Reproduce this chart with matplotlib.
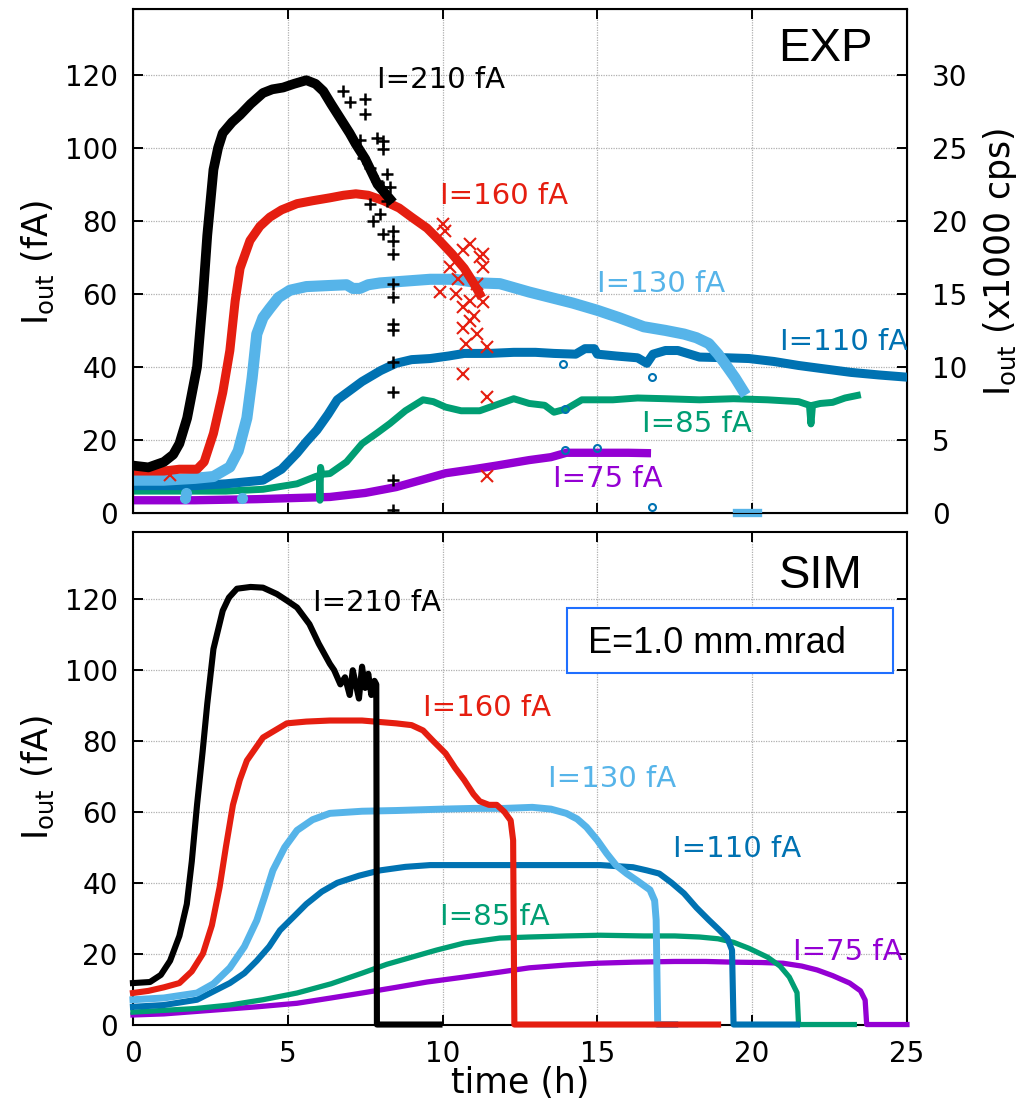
import numpy as np
import matplotlib
matplotlib.use("Agg")
import matplotlib.pyplot as plt
from matplotlib.patches import Rectangle

plt.rcParams['font.family'] = ['DejaVu Sans']
plt.rcParams['mathtext.fontset'] = 'dejavusans'
plt.rcParams['mathtext.default'] = 'regular'

# colours (gnuplot default palette)
c_210 = '#000000'
c_160 = '#e51e10'
c_130 = '#56b4e9'
c_110 = '#0072b2'
c_85 = '#009e73'
c_75 = '#9400d3'

labels = ['I=210 fA', 'I=160 fA', 'I=130 fA', 'I=110 fA', 'I=85 fA', 'I=75 fA']

# ---------------- EXP data (time in h, current in fA) ----------------
exp210_t = [0.0, 0.5, 1.0, 1.3, 1.5, 1.75, 2.07, 2.25, 2.4, 2.6, 2.75, 2.9, 3.2, 3.46, 3.8, 4.2, 4.5,
            4.85, 5.2, 5.6, 5.9, 6.15, 6.4, 6.7, 7.0, 7.2, 7.5, 7.9, 8.1, 8.3]
exp210_v = [13, 12.5, 14, 16, 19, 26, 40, 58, 76, 94, 100, 104, 107, 109, 112, 115, 116,
            116.5, 117.5, 118.5, 117.5, 115.5, 112, 108, 104, 101, 97, 90, 88, 86]
# scattered points of the 210 fA run
exp210_sc_t = [6.79, 7.0, 7.49, 7.49, 7.87, 8.09, 8.09, 8.19, 8.3, 7.76, 8.09, 8.41, 8.41, 8.41, 8.41,
               8.41, 8.41, 8.41, 8.41, 8.41, 7.32, 7.43, 7.65, 7.87, 8.09, 7.65, 7.98, 8.19, 8.41, 8.41]
exp210_sc_v = [115.6, 112.4, 113.3, 109.2, 102.8, 101.9, 99.6, 92.8, 89.2, 80, 76.5, 77.3, 74.5, 70.9, 59.1,
               51.8, 41.3, 33.1, 9.0, 0.8, 102, 97.3, 94.6, 91, 89.2, 84.7, 81.9, 85.5, 62.8, 50]

exp160_t = [0.0, 1.0, 1.5, 2.07, 2.3, 2.6, 2.9, 3.13, 3.3, 3.46, 3.78, 4.1, 4.42, 4.8, 5.3, 5.8, 6.36,
            6.8, 7.2, 7.6, 8.1, 8.6, 9.0, 9.5, 9.9, 10.3, 10.7, 11.0, 11.2]
exp160_v = [11.5, 11.5, 12, 12, 14, 21.8, 33, 44.5, 58, 67, 74.6, 78.5, 81, 83, 84.7, 85.5, 86.3,
            87, 87.4, 87, 85.5, 83.5, 81, 78, 74.6, 71, 67, 63, 60]
exp160_sc_t = [10.02, 10.09, 10.67, 10.89, 11.2, 11.31, 11.1, 10.24, 10.45, 10.67, 10.89, 10.67, 11.1,
               10.77, 11.42, 10.67, 11.42, 11.42, 9.92, 11.31, 11.31, 1.2, 10.5, 10.9, 11.0]
exp160_sc_v = [79.2, 77.3, 71.9, 73.7, 70, 67.3, 62.8, 67.3, 60, 56.4, 52.7, 50.6, 49.1,
               46.4, 45.4, 38.1, 31.7, 10.1, 60.5, 57.8, 70.9, 10.4, 64, 58, 54]

exp130_t = [0.0, 1.0, 2.0, 2.6, 3.13, 3.4, 3.68, 3.85, 4.0, 4.2, 4.42, 4.7, 5.07, 5.6, 6.36, 6.9, 7.1,
            7.33, 7.6, 7.98, 8.8, 9.6, 10.4, 11.2, 11.85, 12.8, 13.5, 14.2, 15.0, 15.7, 16.5, 17.2,
            17.8, 18.2, 18.6, 18.9, 19.2, 19.45, 19.7]
exp130_v = [9, 9, 9.5, 10, 12.6, 17, 26, 37, 49, 53.5, 56, 59, 61, 62, 62.3, 62.5, 61.5,
            61.5, 62.5, 63, 63.5, 64, 64, 63, 62.8, 60.5, 59, 57.5, 55.5, 53.5, 51, 50,
            49, 48, 46.4, 43.5, 40, 37, 33.6]
exp130_zero_t = [19.5, 20.2]
exp130_zero_v = [0, 0]
exp130_sc_t = [1.68, 1.72, 3.51]
exp130_sc_v = [4.0, 5.4, 4.0]

exp110_t = [0.0, 1.0, 2.0, 3.0, 4.2, 4.8, 5.3, 5.6, 5.94, 6.3, 6.6, 7.0, 7.4, 8.0, 8.5, 9.0, 9.6,
            10.2, 10.7, 11.5, 12.3, 13.0, 13.6, 14.3, 14.6, 14.9, 15.0, 15.6, 16.3, 16.6, 16.8,
            17.2, 17.6, 18.3, 19.2, 19.9, 20.7, 21.5, 22.3, 23.2, 24.1, 25.0]
exp110_v = [7.5, 7.5, 7.5, 8, 9, 12, 16.4, 19.5, 22.7, 27, 31, 33.5, 36, 39, 41, 42, 42.3,
            43, 43.7, 43.7, 44, 44, 43.7, 43.5, 45, 45, 43.5, 43, 42.5, 41, 43.5,
            44.5, 44.5, 42.7, 42.5, 42.3, 41.5, 40.4, 39.5, 38.5, 37.8, 37.2]
exp110_sc_t = [13.9, 16.75, 16.75, 13.95, 13.95, 14.98]
exp110_sc_v = [40.9, 37.2, 1.7, 28.6, 17.2, 17.7]

exp85_t = [0.0, 1.0, 2.0, 3.0, 4.2, 5.3, 5.9, 6.02, 6.04, 6.06, 6.1, 6.36, 6.9, 7.4, 7.9, 8.3, 8.8,
           9.37, 9.7, 10.1, 10.6, 11.2, 11.7, 12.3, 12.8, 13.3, 13.6, 14.0, 14.5, 15.5, 16.3, 17.2,
           18.3, 19.4, 20.5, 21.5, 21.85, 21.9, 21.95, 22.2, 22.6, 23.0, 23.4]
exp85_v = [6, 6, 6, 6, 6.5, 8, 10, 10.3, 3.5, 12.5, 10.6, 10.8, 14, 19, 22, 24.5, 28,
           31, 30.5, 29, 28, 28, 29.5, 31.3, 30, 29.5, 27.6, 28.5, 31, 31, 31.5, 31.3,
           31, 31.3, 31, 30.5, 29.5, 24.4, 29.5, 30, 30.3, 31.5, 32.2]

exp75_t = [0.0, 2.0, 4.0, 6.36, 7.5, 8.5, 9.3, 10.1, 11.0, 11.75, 12.8, 13.5, 14.0, 15.0, 16.0, 16.6]
exp75_v = [3.5, 3.5, 3.8, 4.4, 5.5, 7.1, 9, 10.9, 12, 13, 14.5, 15.3, 16.5, 16.5, 16.5, 16.4]

# ---------------- SIM data ----------------
sim210_t = [0.0, 0.55, 0.9, 1.2, 1.5, 1.74, 1.9, 2.07, 2.25, 2.4, 2.6, 2.9, 3.1, 3.36, 3.8, 4.2, 4.65,
            5.0, 5.3, 5.7, 6.0, 6.36, 6.5, 6.7, 6.85, 7.0, 7.1, 7.2, 7.3, 7.4, 7.5, 7.6, 7.7, 7.8,
            7.86, 7.88, 8.5, 9.9]
sim210_v = [11.7, 12, 14, 18, 25, 34, 46, 62, 77, 90.5, 106, 116.8, 120.5, 123, 123.5, 123.3, 121.5,
            119.5, 117.7, 113, 107.5, 101.8, 100, 96, 98, 93, 100, 96, 92, 101, 95, 99, 93, 97,
            96, 0, 0, 0]

sim160_t = [0.0, 0.5, 1.0, 1.5, 1.9, 2.26, 2.55, 2.8, 3.0, 3.23, 3.45, 3.68, 4.2, 4.97, 5.6, 6.36,
            7.4, 8.5, 9.0, 9.37, 9.7, 10.1, 10.4, 10.7, 11.0, 11.2, 11.5, 11.75, 12.0, 12.2, 12.28,
            12.32, 18.9]
sim160_v = [8.9, 9.5, 10.5, 11.7, 15, 20, 28, 38.8, 50, 62, 69, 74.5, 81, 85, 85.5, 85.8,
            85.8, 85, 84.5, 83, 80, 76.5, 72.5, 69, 65, 63, 62, 62, 60, 57.6, 52,
            0, 0]

sim130_t = [0.0, 1.0, 2.07, 2.6, 3.13, 3.6, 4.0, 4.25, 4.52, 4.9, 5.3, 5.8, 6.36, 7.4, 8.5, 10.0,
            11.0, 12.0, 12.9, 13.5, 14.0, 14.35, 14.65, 15.0, 15.3, 15.6, 15.95, 16.3, 16.7, 16.85,
            16.9, 16.95, 17.5]
sim130_v = [7, 7.5, 8.9, 11.5, 16, 22, 29.4, 36, 43.5, 50, 54.8, 57.8, 59.6, 60.2, 60.4, 60.8,
            61, 61, 61.3, 60.8, 59.6, 58, 55.7, 52, 48.3, 45, 42.6, 40.5, 38, 35,
            29.5, 0, 0]

sim110_t = [0.0, 1.0, 2.07, 3.13, 3.6, 4.0, 4.4, 4.75, 5.2, 5.6, 6.1, 6.6, 7.3, 7.98, 8.8, 9.6,
            11.0, 12.8, 14.0, 15.1, 16.15, 16.6, 17.0, 17.4, 17.8, 18.2, 18.6, 18.9, 19.2, 19.35,
            19.4, 21.45]
sim110_v = [5, 5.5, 7, 11.7, 14.5, 18, 22, 26.6, 30.5, 34, 37.5, 40, 42, 43.5, 44.5, 45,
            45, 45, 45, 45, 44.4, 43.5, 42.6, 40, 37, 33, 29.5, 27, 24.4, 21,
            0, 0]

sim85_t = [0.0, 1.0, 2.0, 3.13, 4.2, 5.3, 6.4, 7.4, 8.2, 9.0, 9.8, 10.7, 11.85, 12.8, 14.0, 15.1,
           16.5, 17.5, 18.3, 18.9, 19.4, 19.9, 20.5, 20.9, 21.2, 21.45, 21.5, 23.3]
sim85_v = [3.5, 4, 4.5, 5.5, 7, 8.9, 11.5, 14.5, 17, 19, 21, 23, 24.4, 24.7, 25, 25.2,
           25, 25, 24.7, 24.2, 23.2, 21.5, 19, 16.5, 13.4, 9, 0, 0]

sim75_t = [0.0, 1.0, 2.5, 4.0, 5.3, 6.4, 7.4, 8.5, 9.5, 10.7, 11.85, 12.8, 14.0, 15.0, 16.15, 17.5,
           18.5, 19.4, 20.3, 21.0, 21.6, 22.1, 22.6, 23.15, 23.5, 23.65, 23.7, 25.0]
sim75_v = [2.7, 3, 4, 5, 6, 7.5, 8.9, 10.5, 12, 13.4, 14.8, 16, 16.8, 17.3, 17.6, 17.8,
           17.8, 17.6, 17.5, 17.3, 16.5, 15.4, 13.8, 11.7, 9.5, 6.9, 0, 0]

# label positions (time, current)
exp_lab_t = [7.88, 9.92, 14.99, 20.9, 16.44, 13.57]
exp_lab_v = [116.4, 84.7, 60.5, 44.7, 22.2, 7.1]
sim_lab_t = [5.81, 9.37, 13.4, 17.44, 9.92, 21.32]
sim_lab_v = [116.8, 87.2, 66.9, 47.2, 28.0, 18.2]
colors = [c_210, c_160, c_130, c_110, c_85, c_75]

fig = plt.figure(figsize=(10.18, 11.10), dpi=100)
ax1 = fig.add_axes([0.1306, 0.5378, 0.7603, 0.4541])
ax2 = fig.add_axes([0.1306, 0.0770, 0.7603, 0.4437])


def style_axes(ax, ymax, xlabels):
    ax.set_xlim(0, 25)
    ax.set_ylim(0, ymax)
    ax.set_xticks([0, 5, 10, 15, 20, 25])
    ax.set_yticks([0, 20, 40, 60, 80, 100, 120])
    ax.grid(True, color='#b0b0b0', linestyle=(0, (1, 1)), linewidth=0.9)
    ax.tick_params(direction='in', length=7, width=1.4, labelsize=20, top=True, pad=11,
                   labelbottom=xlabels)
    for s in ax.spines.values():
        s.set_linewidth(1.5)


style_axes(ax1, 138, False)
style_axes(ax2, 139, True)
ax2.tick_params(right=True)

# EXP panel (drawn so that 210 fA ends up on top)
ax1.plot(exp75_t, exp75_v, color=c_75, lw=6, solid_joinstyle='round', zorder=3)
ax1.plot(exp85_t, exp85_v, color=c_85, lw=5, solid_joinstyle='round', zorder=4)
ax1.plot(exp110_t, exp110_v, color=c_110, lw=6.5, solid_joinstyle='round', zorder=5)
ax1.plot(exp110_sc_t, exp110_sc_v, 'o', mfc='none', mec=c_110, ms=5, mew=1.5, zorder=5)
ax1.plot(exp130_t, exp130_v, color=c_130, lw=8, solid_joinstyle='round', zorder=6)
ax1.plot(exp130_zero_t, exp130_zero_v, color=c_130, lw=6, clip_on=False, zorder=6)
ax1.plot(exp130_sc_t, exp130_sc_v, 'o', color=c_130, ms=7, zorder=6)
ax1.plot(exp160_t, exp160_v, color=c_160, lw=6.5, solid_joinstyle='round', zorder=7)
ax1.plot(exp160_sc_t, exp160_sc_v, 'x', color=c_160, ms=8, mew=1.5, zorder=7)
ax1.plot(exp210_t, exp210_v, color=c_210, lw=7, solid_joinstyle='round', zorder=8)
ax1.plot(exp210_sc_t, exp210_sc_v, '+', color=c_210, ms=9, mew=1.8, zorder=8)

for lab, t, v, c in zip(labels, exp_lab_t, exp_lab_v, colors):
    ax1.text(t, v, lab, color=c, fontsize=21, ha='left', va='baseline', zorder=10)

ax1.text(0.956, 0.897, 'EXP', transform=ax1.transAxes, fontsize=34,
         family='Liberation Sans', ha='right', va='baseline')

# right axis in x1000 cps
ax1r = ax1.twinx()
ax1r.set_ylim(0, 138 / 4)
ax1r.set_yticks([0, 5, 10, 15, 20, 25, 30])
ax1r.tick_params(direction='in', length=7, width=1.4, labelsize=20, pad=18)
ax1.tick_params(right=False)

# SIM panel
sim_sets = [(sim75_t, sim75_v, c_75, 3.8), (sim85_t, sim85_v, c_85, 3.8),
            (sim110_t, sim110_v, c_110, 4.4), (sim130_t, sim130_v, c_130, 5.0),
            (sim160_t, sim160_v, c_160, 4.4), (sim210_t, sim210_v, c_210, 4.4)]
for i, (t, v, c, lw) in enumerate(sim_sets):
    ax2.plot(t, v, color=c, lw=lw, solid_joinstyle='round', clip_on=False, zorder=3 + i)

for lab, t, v, c in zip(labels, sim_lab_t, sim_lab_v, colors):
    ax2.text(t, v, lab, color=c, fontsize=21, ha='left', va='baseline', zorder=10)

ax2.text(0.943, 0.886, 'SIM', transform=ax2.transAxes, fontsize=34,
         family='Liberation Sans', ha='right', va='baseline')
ax2.add_patch(Rectangle((0.561, 0.714), 0.421, 0.132, transform=ax2.transAxes,
                        facecolor='white', edgecolor='#1f6fff', lw=1.5, zorder=11))
ax2.text(0.588, 0.754, 'E=1.0 mm.mrad', transform=ax2.transAxes, fontsize=26,
         family='Liberation Sans', ha='left', va='baseline', zorder=12)

# axis titles
fig.text(38 / 1018, 1 - 263 / 1110, r'I$_{\mathrm{out}}$ (fA)', rotation=90,
         fontsize=25, ha='center', va='center')
fig.text(38 / 1018, 1 - 778 / 1110, r'I$_{\mathrm{out}}$ (fA)', rotation=90,
         fontsize=25, ha='center', va='center')
fig.text(1000 / 1018, 1 - 262 / 1110, r'I$_{\mathrm{out}}$ (x1000 cps)', rotation=90,
         fontsize=25, ha='center', va='center')
fig.text(520 / 1018, 1 - 1083 / 1110, 'time (h)', fontsize=25, ha='center', va='center')

fig.savefig('out.png', dpi=100)
